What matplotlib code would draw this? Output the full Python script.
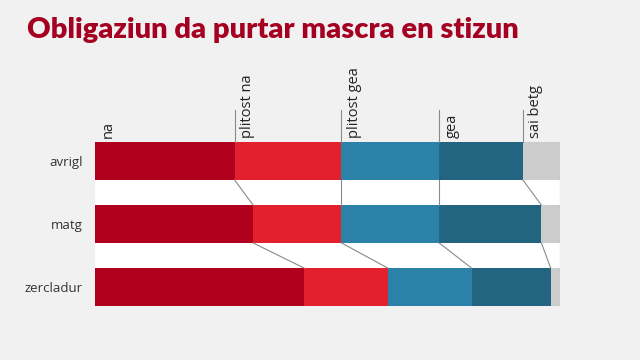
import matplotlib
matplotlib.use("Agg")
import matplotlib.pyplot as plt
import numpy as np

title = "Obligaziun da purtar mascra en stizun"
categories = ["avrigl", "matg", "zercladur"]
answers = ["na", "plitost na", "plitost gea", "gea", "sai betg"]
na = [30, 34, 45]
plitost_na = [23, 19, 18]
plitost_gea = [21, 21, 18]
gea = [18, 22, 17]
sai_betg = [8, 4, 2]
colors = ["#b0001e", "#e3202d", "#2a82a8", "#236580", "#cccccc"]

series = [na, plitost_na, plitost_gea, gea, sai_betg]

fig = plt.figure(figsize=(6.4, 3.6), dpi=100)
fig.patch.set_facecolor("#f1f1f1")
ax = fig.add_axes([95/640, 54/360, 465/640, 164/360])
ax.set_facecolor("white")

y = np.arange(len(categories))
h = 0.6
left = np.zeros(len(categories))
cums = []
for vals, col in zip(series, colors):
    vals = np.array(vals, dtype=float)
    ax.barh(y, vals, left=left, height=h, color=col, edgecolor="none", zorder=2)
    left = left + vals
    cums.append(left.copy())

# connectors between bars
for c in cums:
    for i in range(len(categories) - 1):
        ax.plot([c[i], c[i + 1]], [i + h/2, i + 1 - h/2], color="#8a8a8a", lw=0.8, zorder=3)

ax.set_xlim(0, 100)
ax.set_ylim(len(categories) - 1 + h/2, -h/2)

# top tick lines and labels
starts = [0] + [c[0] for c in cums[:-1]]
for s, lab in zip(starts, answers):
    if s > 0:
        ax.plot([s, s], [-h/2, -h/2 - 0.5], color="#8a8a8a", lw=0.8, clip_on=False, zorder=3)
    ax.annotate(lab, xy=(s, -h/2), xycoords="data", xytext=(4, 3), textcoords="offset points",
                rotation=90, ha="left", va="bottom", fontsize=10.5, color="#222222",
                family=["Open Sans", "DejaVu Sans"])

ax.set_yticks(y)
ax.set_yticklabels(categories, fontsize=9.5, color="#333333", family=["Open Sans", "DejaVu Sans"])
ax.tick_params(axis="y", length=0, pad=9)
ax.set_xticks([])
for sp in ax.spines.values():
    sp.set_visible(False)

fig.text(27/640, 1 - 30/360, title, fontsize=21, fontweight="heavy", color="#a50021",
         va="center", ha="left", family=["Lato", "DejaVu Sans"])

fig.savefig("out.png", dpi=100, facecolor=fig.get_facecolor())
